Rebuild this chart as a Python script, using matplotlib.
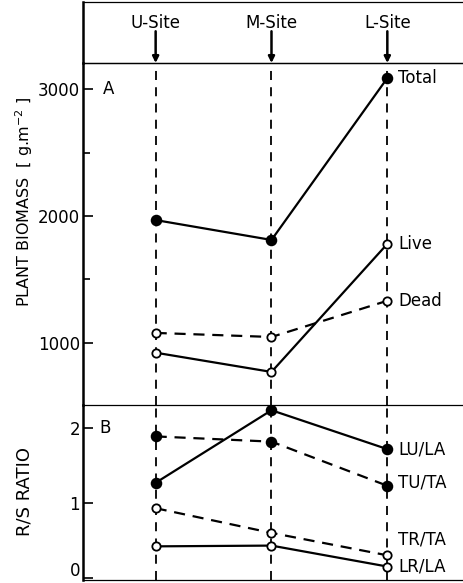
import matplotlib
matplotlib.use("Agg")
import matplotlib.pyplot as plt
import matplotlib.transforms as mtransforms

sites = ["U-Site", "M-Site", "L-Site"]
x = [0, 1, 2]

# Panel A: plant biomass (g m-2)
total = [1968, 1811, 3089]
live = [921, 769, 1780]
dead = [1077, 1045, 1331]

# Panel B: R/S ratios
lu_la = [1.27, 2.24, 1.72]
tu_ta = [1.89, 1.82, 1.23]
tr_ta = [0.93, 0.60, 0.30]
lr_la = [0.42, 0.43, 0.15]

W, H = 463, 583
fig = plt.figure(figsize=(W / 100, H / 100), dpi=100)
fig.patch.set_facecolor("white")

def fx(px):
    return px / W

def fy(py):
    return 1 - py / H

left = fx(83)
width = 1.0 - left + 0.01
xlim = ((83 - 157) / 118, (463 - 157) / 118 + 0.1)

ax_h = fig.add_axes([left, fy(63), width, fy(2) - fy(63)])
ax_a = fig.add_axes([left, fy(405), width, fy(63) - fy(405)])
ax_b = fig.add_axes([left, fy(580), width, fy(405) - fy(580)])

for ax in (ax_h, ax_a, ax_b):
    ax.set_xlim(*xlim)
    ax.spines["right"].set_visible(False)
    ax.spines["left"].set_linewidth(1.8)
    ax.spines["top"].set_linewidth(0.9)
    ax.spines["bottom"].set_linewidth(0.9)
    ax.set_xticks([])
    ax.set_facecolor("none")

fs = 12

# Header
ax_h.set_ylim(0, 1)
ax_h.set_yticks([])
for xi, s in zip(x, sites):
    ax_h.text(xi, 0.66, s, ha="center", va="center", fontsize=fs)
    ax_h.annotate("", xy=(xi, 0.0), xytext=(xi, 0.52),
                  arrowprops=dict(arrowstyle="-|>", color="black", lw=1.8,
                                  mutation_scale=9, shrinkA=0, shrinkB=0))

ax_a.set_ylim(508, 3208)
ax_a.set_yticks([1000, 2000, 3000])
ax_a.set_yticks([1500, 2500], minor=True)
ax_a.tick_params(axis="y", which="major", direction="in", length=7, width=1.2,
                 labelsize=fs, pad=2)
ax_a.tick_params(axis="y", which="minor", direction="in", length=5, width=1.2)
ax_a.spines["bottom"].set_visible(False)

ax_b.set_ylim(-0.03, 2.31)
ax_b.set_yticks([0, 1, 2])
ax_b.tick_params(axis="y", which="major", direction="in", length=7, width=1.2,
                 labelsize=fs, pad=2)

for ax in (ax_a, ax_b):
    for xi in x:
        ax.axvline(xi, color="black", lw=1.3, ls=(0, (5, 4)), zorder=1)

lw = 1.6
ms_f = 7
ms_o = 6
def plot(ax, vals, ls, filled):
    ax.plot(x, vals, color="black", lw=lw, ls=ls, zorder=3,
            marker="o", ms=ms_f if filled else ms_o,
            mfc="black" if filled else "white", mec="black", mew=1.3)

plot(ax_a, total, "-", True)
plot(ax_a, live, "-", False)
plot(ax_a, dead, (0, (5, 3.5)), False)

plot(ax_b, lu_la, "-", True)
plot(ax_b, tu_ta, (0, (5, 3.5)), True)
plot(ax_b, tr_ta, (0, (5, 3.5)), False)
plot(ax_b, lr_la, "-", False)

def rlabel(ax, y, s):
    ax.annotate(s, xy=(2, y), xytext=(8, 0), textcoords="offset points",
                ha="left", va="center", fontsize=fs)

rlabel(ax_a, total[2], "Total")
rlabel(ax_a, live[2], "Live")
rlabel(ax_a, dead[2], "Dead")
rlabel(ax_b, lu_la[2], "LU/LA")
rlabel(ax_b, 1.27, "TU/TA")
rlabel(ax_b, 0.51, "TR/TA")
rlabel(ax_b, 0.15, "LR/LA")

ax_a.text(-0.41, 3000, "A", ha="center", va="center", fontsize=fs)
ax_b.text(-0.44, 2.0, "B", ha="center", va="center", fontsize=fs)

fig.text(fx(24), fy(202), "PLANT BIOMASS  [ g.m$^{-2}$ ]", rotation=90,
         ha="center", va="center", fontsize=11.5)
fig.text(fx(25), fy(492), "R/S RATIO", rotation=90,
         ha="center", va="center", fontsize=13)

# nudge the "0" tick label up so it stays inside the figure
fig.canvas.draw()
for lab in ax_b.get_yticklabels():
    if lab.get_text() == "0":
        lab.set_transform(lab.get_transform() +
                          mtransforms.ScaledTranslation(0, 6 / 72, fig.dpi_scale_trans))

fig.savefig("out.png", dpi=100, facecolor="white")
